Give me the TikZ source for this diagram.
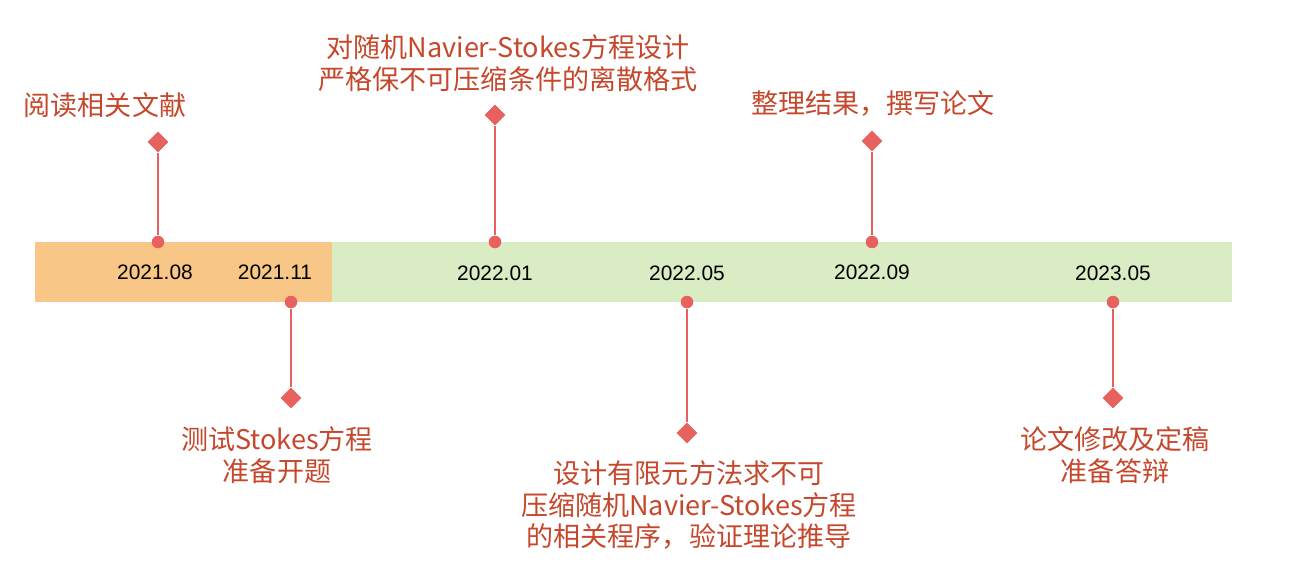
\documentclass[tikz,border=0pt]{standalone}
\usepackage{fontspec}
\setmainfont{Liberation Sans}
\newfontfamily\cjk{Noto Sans CJK SC}
\usetikzlibrary{shapes.geometric}
\definecolor{TextRed}{RGB}{197,72,44}
\definecolor{MarkRed}{RGB}{231,98,94}
\definecolor{SoftOrange}{RGB}{248,198,134}
\definecolor{SoftGreen}{RGB}{217,236,196}

\begin{document}
\begin{tikzpicture}[x=0.02cm, y=-0.02cm,
  event/.style={text=TextRed, align=center, inner sep=0pt, font=\cjk\fontsize{15.4pt}{18.2pt}\selectfont},
  datelabel/.style={inner sep=0pt, font=\fontsize{11.9pt}{13pt}\selectfont},
  dot/.style={circle, fill=MarkRed, minimum size=0.25cm, inner sep=0pt},
  gem/.style={diamond, fill=MarkRed, minimum size=0.42cm, inner sep=0pt},
  stem/.style={MarkRed, line width=0.85pt}]
\useasboundingbox (0,0) rectangle (1309,578);
% timeline band
\fill[SoftOrange] (35,242) rectangle (332,302);
\fill[SoftGreen] (332,242) rectangle (1232,302);
% dates
\node[datelabel] (d1) at (155,272) {2021.08};
\node[datelabel] (d2) at (275,272) {2021.11};
\node[datelabel] (d3) at (495,273) {2022.01};
\node[datelabel] (d4) at (687,273) {2022.05};
\node[datelabel] (d5) at (872,272) {2022.09};
\node[datelabel] (d6) at (1113,273) {2023.05};
% dots on the band
\node[dot] (p1) at (158,242) {};
\node[dot] (p2) at (291,302) {};
\node[dot] (p3) at (495,242) {};
\node[dot] (p4) at (687,302) {};
\node[dot] (p5) at (872,242) {};
\node[dot] (p6) at (1113,302) {};
% diamonds
\node[gem] (g1) at (158,142) {};
\node[gem] (g2) at (291,398) {};
\node[gem] (g3) at (495,115) {};
\node[gem] (g4) at (687,433) {};
\node[gem] (g5) at (872,141) {};
\node[gem] (g6) at (1113,398) {};
\draw[stem] (p1) -- (g1);
\draw[stem] (p2) -- (g2);
\draw[stem] (p3) -- (g3);
\draw[stem] (p4) -- (g4);
\draw[stem] (p5) -- (g5);
\draw[stem] (p6) -- (g6);
% events
\node[event] (e1) at (105,105) {阅读相关文献};
\node[event] (e2) at (277,455) {测试Stokes方程\\准备开题};
\node[event] (e3) at (508,63) {对随机Navier-Stokes方程设计\\严格保不可压缩条件的离散格式};
\node[event] (e4) at (689,505) {设计有限元方法求不可\\压缩随机Navier-Stokes方程\\的相关程序，验证理论推导};
\node[event] (e5) at (873,103) {整理结果，撰写论文};
\node[event] (e6) at (1115,455) {论文修改及定稿\\准备答辩};
\end{tikzpicture}
\end{document}
